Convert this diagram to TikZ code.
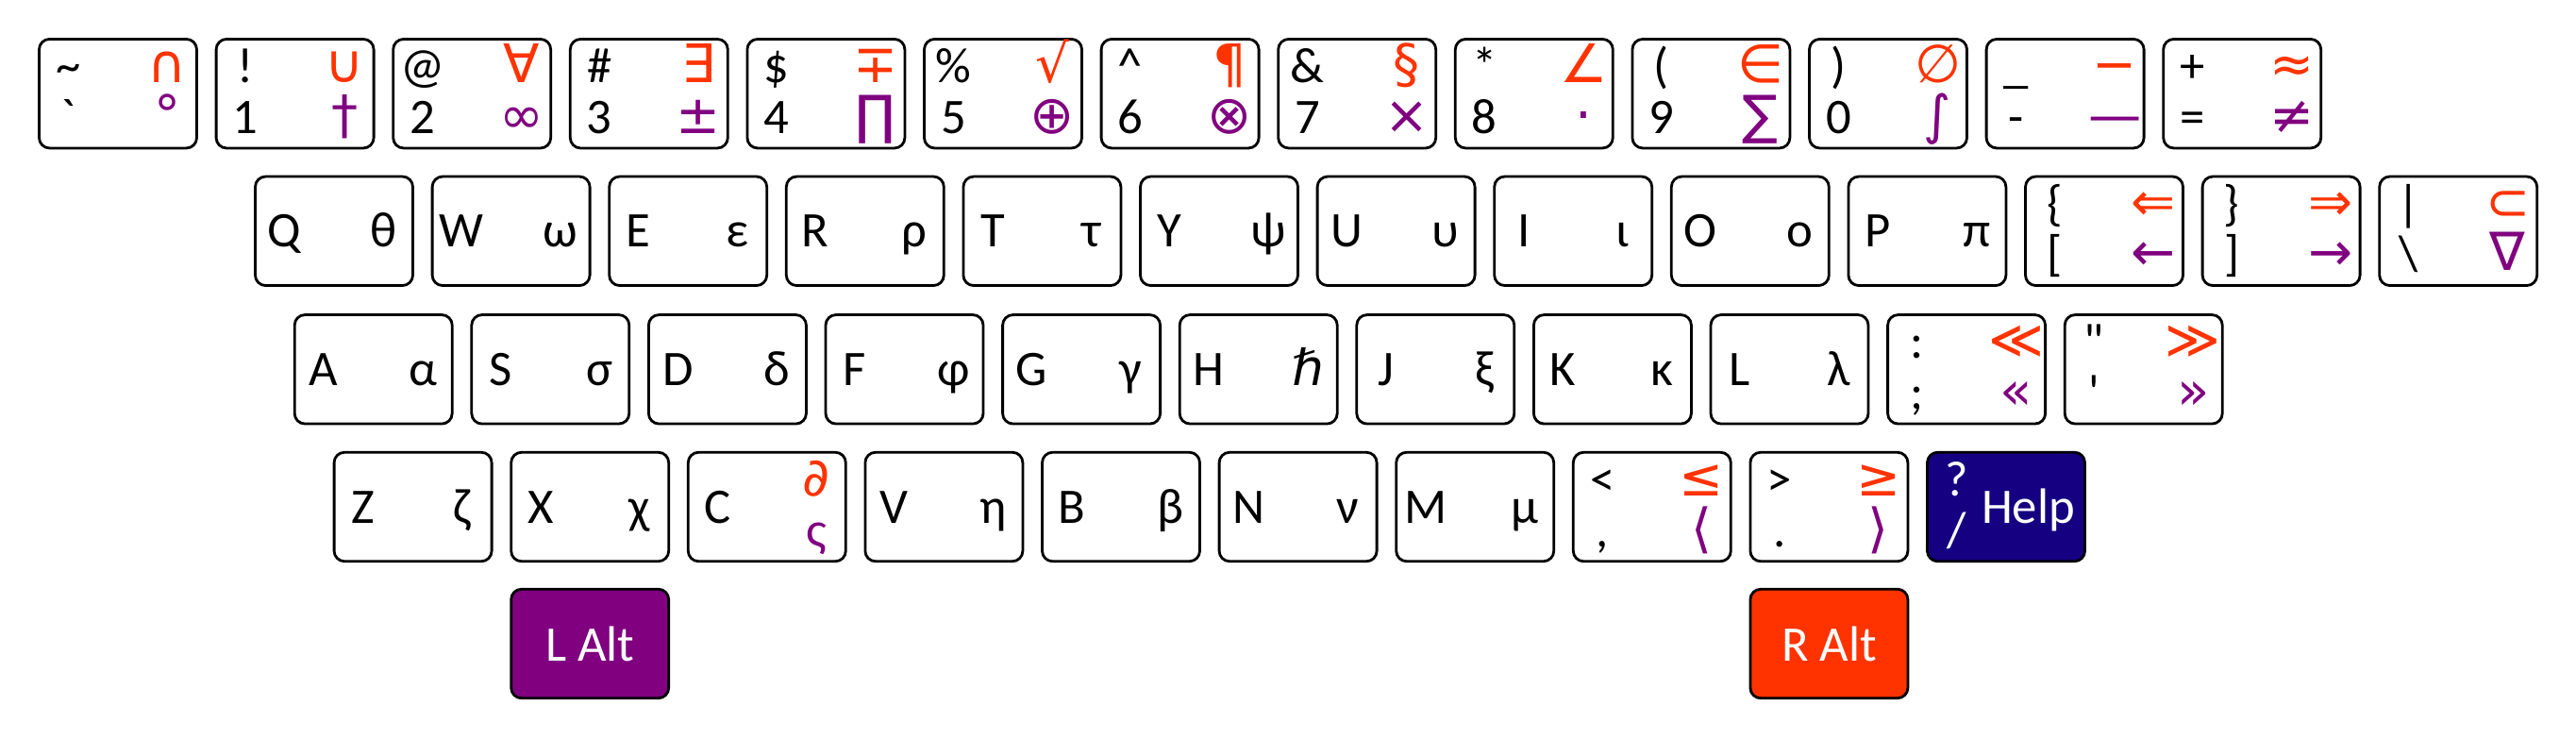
\documentclass[tikz,border=0pt]{standalone}
\usepackage{fontspec}
\newfontfamily\keyfont{Carlito}
\newfontfamily\symfont{DejaVu Sans}
\definecolor{altred}{RGB}{255,51,0}
\definecolor{altpurple}{RGB}{128,0,128}
\definecolor{helpblue}{RGB}{20,0,128}
% four legends on one key: name, upper left, lower left, upper right, lower right
\newcommand{\keylabels}[5]{%
  \node[lab] (#1-ul) at ([shift={(-0.525,0.118)}]#1.center) {#2};
  \node[lab] (#1-ll) at ([shift={(-0.525,-0.42)}]#1.center) {#3};
  \node[sym,altr] (#1-ur) at ([shift={(0.525,0.118)}]#1.center) {#4};
  \node[sym,altp] (#1-lr) at ([shift={(0.525,-0.42)}]#1.center) {#5};}
\begin{document}
\begin{tikzpicture}[
  key/.style={draw,line width=0.8pt,rounded corners=0.11cm,minimum width=1.67cm,minimum height=1.155cm,inner sep=0pt},
  lab/.style={font=\keyfont\fontsize{15}{18}\selectfont,inner sep=0pt,anchor=base},
  sym/.style={font=\symfont\fontsize{16}{18}\selectfont,inner sep=0pt,anchor=base},
  altr/.style={text=altred}, altp/.style={text=altpurple}]
\useasboundingbox (0,0) rectangle (27.30,-7.82);
% number row
\foreach \ul/\ll/\ur/\lr [count=\i from 0] in {\textasciitilde/`/∩/°, !/1/∪/†, @/2/∀/∞, \#/3/∃/±,
    \$/4/∓/∏, \%/5/√/⊕, \textasciicircum/6/¶/⊗, \&/7/§/×, */8/∠/⋅, {(}/9/∈/∑, {)}/0/∅/∫, \_/-/−/—, +/=/≈/≠}{
  \node[key] (n\i) at ({1.25+1.876*\i},-0.992) {};
  \keylabels{n\i}{\ul}{\ll}{\ur}{\lr}
}
% top letter row
\foreach \lt/\gk [count=\i from 0] in {Q/θ,W/ω,E/ε,R/ρ,T/τ,Y/ψ,U/υ,I/ι,O/ο,P/π}{
  \node[key] (q\i) at ({3.54+1.876*\i},-2.448) {};
  \node[lab] (q\i-l) at ([shift={(-0.525,-0.17)}]q\i.center) {\lt};
  \node[lab] (q\i-r) at ([shift={(0.525,-0.17)}]q\i.center) {\gk};
}
\foreach \ul/\ll/\ur/\lr [count=\i from 10] in {\{/{[}/⇐/←, \}/]/⇒/→, |/\textbackslash/⊂/∇}{
  \node[key] (q\i) at ({3.54+1.876*\i},-2.448) {};
  \keylabels{q\i}{\ul}{\ll}{\ur}{\lr}
}
% home row
\foreach \lt/\gk [count=\i from 0] in {A/α,S/σ,D/δ,F/φ,G/γ,H/{\symfont\itshape ℏ},J/ξ,K/κ,L/λ}{
  \node[key] (a\i) at ({3.957+1.876*\i},-3.913) {};
  \node[lab] (a\i-l) at ([shift={(-0.525,-0.17)}]a\i.center) {\lt};
  \node[lab] (a\i-r) at ([shift={(0.525,-0.17)}]a\i.center) {\gk};
}
\foreach \ul/\ll/\ur/\lr [count=\i from 9] in {:/;/≪/«, "/'/≫/»}{
  \node[key] (a\i) at ({3.957+1.876*\i},-3.913) {};
  \keylabels{a\i}{\ul}{\ll}{\ur}{\lr}
}
% bottom letter row
\foreach \i/\lt/\gk in {0/Z/ζ,1/X/χ,3/V/η,4/B/β,5/N/ν,6/M/μ}{
  \node[key] (z\i) at ({4.376+1.876*\i},-5.370) {};
  \node[lab] (z\i-l) at ([shift={(-0.525,-0.17)}]z\i.center) {\lt};
  \node[lab] (z\i-r) at ([shift={(0.525,-0.17)}]z\i.center) {\gk};
}
\node[key] (z2) at (8.128,-5.370) {};
\node[lab] (z2-l) at ([shift={(-0.525,-0.17)}]z2.center) {C};
\node[sym,altr] (z2-ur) at ([shift={(0.525,0.118)}]z2.center) {∂};
\node[lab,altp] (z2-lr) at ([shift={(0.525,-0.42)}]z2.center) {ς};
\foreach \ul/\ll/\ur/\lr [count=\i from 7] in {</{,}/≤/⟨, >/./≥/⟩}{
  \node[key] (z\i) at ({4.376+1.876*\i},-5.370) {};
  \keylabels{z\i}{\ul}{\ll}{\ur}{\lr}
}
\node[key,fill=helpblue] (z9) at (21.260,-5.370) {};
\node[lab,text=white] (z9-ul) at ([shift={(-0.525,0.118)}]z9.center) {?};
\node[lab,text=white] (z9-ll) at ([shift={(-0.525,-0.42)}]z9.center) {/};
\node[lab,text=white] (z9-r) at ([shift={(0.235,-0.17)}]z9.center) {Help};
% alt keys
\node[key,fill=altpurple,text=white,font=\keyfont\fontsize{15}{18}\selectfont] (lalt) at (6.252,-6.820) {L Alt};
\node[key,fill=altred,text=white,font=\keyfont\fontsize{15}{18}\selectfont] (ralt) at (19.384,-6.820) {R Alt};
\end{tikzpicture}
\end{document}
